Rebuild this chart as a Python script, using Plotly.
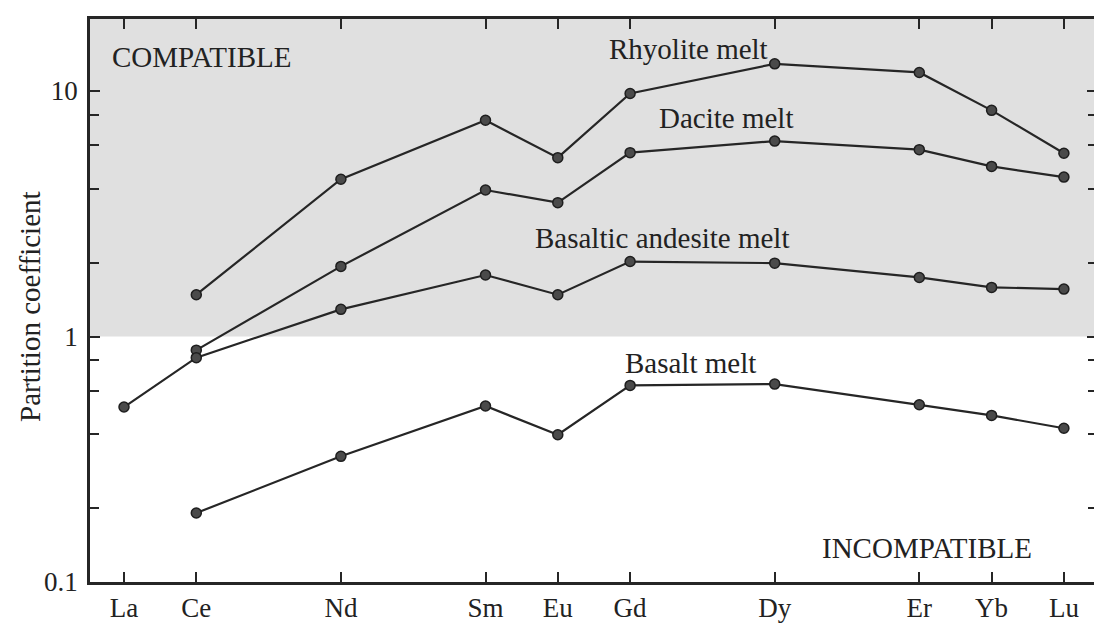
import plotly.graph_objects as go

elements = ["La", "Ce", "Nd", "Sm", "Eu", "Gd", "Dy", "Er", "Yb", "Lu"]
element_pos = [0, 1, 3, 5, 6, 7, 9, 11, 12, 13]

rhyolite_el = ["Ce", "Nd", "Sm", "Eu", "Gd", "Dy", "Er", "Yb", "Lu"]
rhyolite = [1.48, 4.37, 7.6, 5.35, 9.77, 12.9, 11.9, 8.34, 5.58]

dacite_el = ["Ce", "Nd", "Sm", "Eu", "Gd", "Dy", "Er", "Yb", "Lu"]
dacite = [0.88, 1.93, 3.95, 3.51, 5.61, 6.25, 5.77, 4.93, 4.46]

bas_andesite_el = ["La", "Ce", "Nd", "Sm", "Eu", "Gd", "Dy", "Er", "Yb", "Lu"]
bas_andesite = [0.516, 0.82, 1.29, 1.78, 1.48, 2.02, 1.99, 1.74, 1.585, 1.56]

basalt_el = ["Ce", "Nd", "Sm", "Eu", "Gd", "Dy", "Er", "Yb", "Lu"]
basalt = [0.191, 0.325, 0.521, 0.398, 0.632, 0.64, 0.527, 0.477, 0.423]

series_names = ["Rhyolite melt", "Dacite melt", "Basaltic andesite melt", "Basalt melt"]
y_tick_vals = [0.1, 1, 10]
y_tick_text = ["0.1", "1", "10"]
y_minor_vals = [0.2, 0.4, 0.6, 0.8, 2, 4, 6, 8]

pos = dict(zip(elements, element_pos))

FONT = "Liberation Serif"
INK = "#262626"
TXT = "#222222"

fig = go.Figure()

# shaded "compatible" region (D > 1)
fig.add_shape(type="rect", xref="paper", yref="y", x0=0, x1=1, y0=1, y1=30,
              fillcolor="#e0e0e0", line=dict(width=0), layer="below")

for els, vals, name in [(rhyolite_el, rhyolite, series_names[0]),
                        (dacite_el, dacite, series_names[1]),
                        (bas_andesite_el, bas_andesite, series_names[2]),
                        (basalt_el, basalt, series_names[3])]:
    fig.add_trace(go.Scatter(
        x=[pos[e] for e in els], y=vals, mode="lines+markers", name=name,
        line=dict(color=INK, width=2.2),
        marker=dict(size=10, color="#4a4a4a", line=dict(color="#1e1e1e", width=1.5)),
        showlegend=False))

def px_to_x(px):
    return (px - 124) / 72.3

def py_to_logy(py):
    return (582 - py) / 245.5 - 1

labels = [
    ("COMPATIBLE", 110, 57),
    ("Rhyolite melt", 607, 49),
    ("Dacite melt", 657, 118),
    ("Basaltic andesite melt", 533, 238),
    ("Basalt melt", 623, 363),
    ("INCOMPATIBLE", 820, 548),
]
for txt, px, py in labels:
    fig.add_annotation(x=px_to_x(px), y=py_to_logy(py), text=txt, showarrow=False,
                       xanchor="left", yanchor="middle",
                       font=dict(family=FONT, size=29, color=TXT))

fig.add_annotation(xref="paper", yref="paper", x=(30 - 90) / 1007, y=(582 - 307) / 563,
                   text="Partition coefficient", textangle=-90, showarrow=False,
                   xanchor="center", yanchor="middle",
                   font=dict(family=FONT, size=29, color=TXT))

fig.update_xaxes(range=[px_to_x(90), px_to_x(1097)], tickmode="array",
                 tickvals=element_pos, ticktext=elements, automargin=False,
                 ticks="inside", ticklen=10, tickwidth=2, tickcolor=INK,
                 showline=True, linecolor=INK, linewidth=2.5, mirror="ticks",
                 showgrid=False, zeroline=False,
                 tickfont=dict(family=FONT, size=27, color=TXT))
fig.update_yaxes(type="log", range=[-1, py_to_logy(19)], tickmode="array",
                 tickvals=y_tick_vals, ticktext=y_tick_text, automargin=False,
                 ticks="inside", ticklen=10, tickwidth=2, tickcolor=INK,
                 minor=dict(tickmode="array", tickvals=y_minor_vals, ticks="inside",
                            ticklen=9, tickwidth=2, tickcolor=INK, showgrid=False),
                 showline=True, linecolor=INK, linewidth=2.5, mirror="ticks",
                 showgrid=False, zeroline=False, ticklabelstandoff=4,
                 tickfont=dict(family=FONT, size=27, color=TXT))

# the page body adds ~8px offset; size the figure so the plot area lands where the reference has it
fig.update_layout(width=1094, height=617,
                  margin=dict(l=82, r=5, t=11, b=43),
                  plot_bgcolor="white", paper_bgcolor="white")

fig.write_html("out.html")
